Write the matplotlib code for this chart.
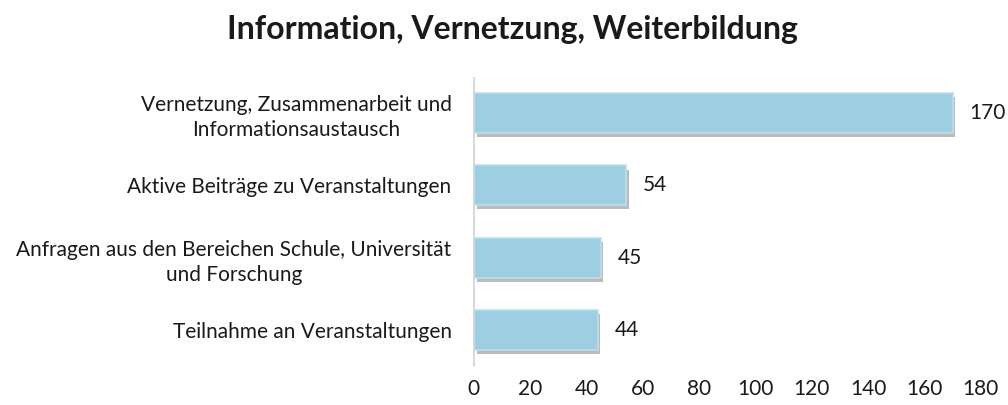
import matplotlib.pyplot as plt
from matplotlib import patheffects as pe

plt.rcParams['font.family'] = ['Lato', 'DejaVu Sans']

categories = ['Vernetzung, Zusammenarbeit und\nInformationsaustausch',
              'Aktive Beiträge zu Veranstaltungen',
              'Anfragen aus den Bereichen Schule, Universität\nund Forschung',
              'Teilnahme an Veranstaltungen']
values = [170, 54, 45, 44]
xticks = list(range(0, 181, 20))
title = 'Information, Vernetzung, Weiterbildung'

fig = plt.figure(figsize=(10.08, 4.05), dpi=100)
ax = fig.add_axes([0.470, 0.099, 0.503, 0.708])

pos = list(range(len(values)))
bars = ax.barh(pos, values, height=0.55, color='#9DCEE2', edgecolor='#BCDFEC',
               linewidth=1.2, zorder=3)
for b in bars:
    b.set_path_effects([pe.SimplePatchShadow(offset=(2, -3), shadow_rgbFace='#555555', alpha=0.4),
                        pe.Normal()])

for p, v in zip(pos, values):
    ax.text(v + 6, p, str(v), va='center', ha='left', fontsize=15, color='#1a1a1a')

ax.set_ylim(3.48, -0.48)
ax.set_xlim(0, 180)
ax.set_yticks(pos)
ax.set_yticklabels(categories, fontsize=15, color='#1a1a1a', linespacing=1.3)
for lab in ax.get_yticklabels():
    lab.set_multialignment('center')
ax.set_xticks(xticks)
ax.set_xticklabels([str(t) for t in xticks], fontsize=15, color='#1a1a1a')
ax.tick_params(axis='both', length=0)
ax.tick_params(axis='y', pad=16)
ax.tick_params(axis='x', pad=10)

for s in ['top', 'right', 'bottom']:
    ax.spines[s].set_visible(False)
ax.spines['left'].set_color('#D9D9D9')
ax.spines['left'].set_linewidth(1.5)

fig.text(0.508, 0.926, title, ha='center', va='center', fontsize=23, fontweight='bold',
         color='#1a1a1a')

fig.savefig('out.png', dpi=100)
